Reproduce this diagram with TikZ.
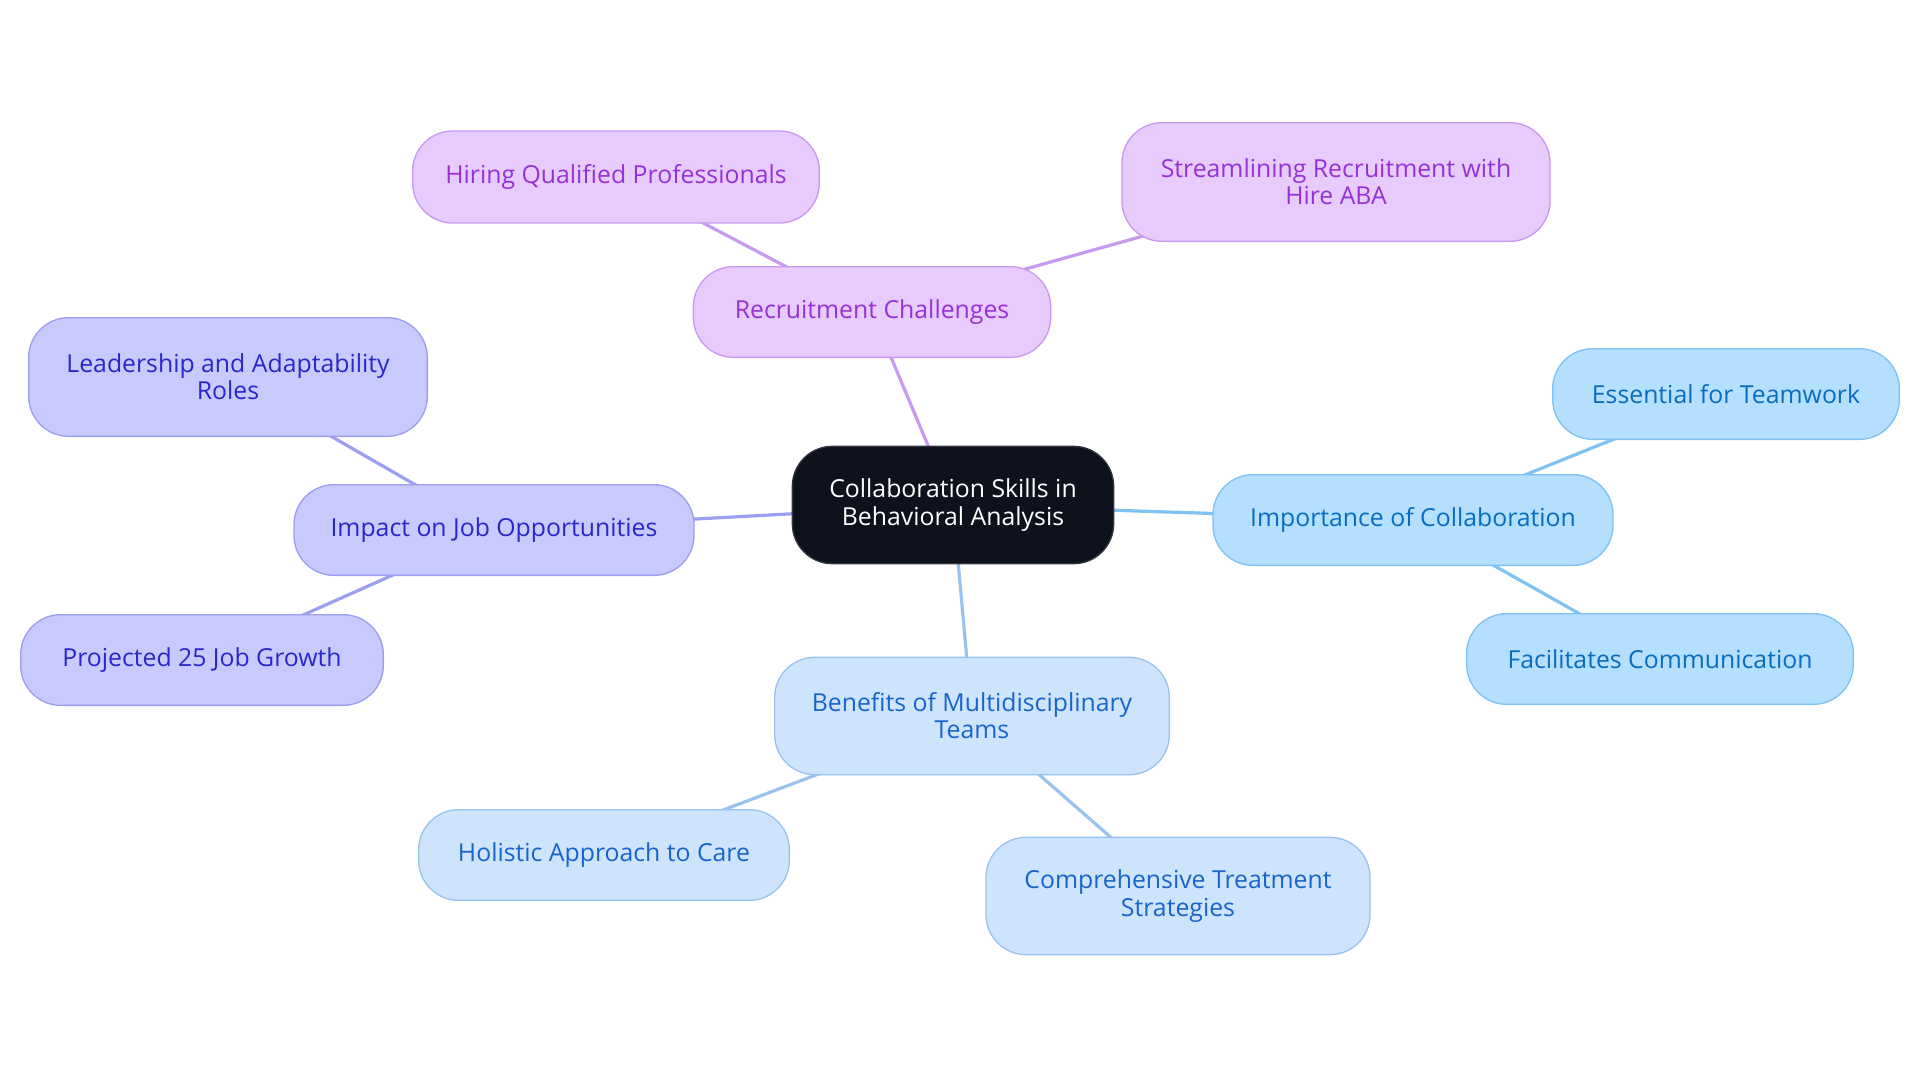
\documentclass[tikz,border=0pt]{standalone}
\usepackage{fontspec}
\setmainfont{Open Sans}
\usetikzlibrary{backgrounds}

\definecolor{coeurFond}{HTML}{0D121C}
\definecolor{coeurBord}{HTML}{30353F}
\definecolor{violetFond}{HTML}{E7CBFD}
\definecolor{violetBord}{HTML}{C799F0}
\definecolor{violetTexte}{HTML}{9631D6}
\definecolor{cielFond}{HTML}{B4DFFE}
\definecolor{cielBord}{HTML}{7FC1F1}
\definecolor{cielTexte}{HTML}{0A6CBF}
\definecolor{lavandeFond}{HTML}{C8C9FC}
\definecolor{lavandeBord}{HTML}{9C9EF1}
\definecolor{lavandeTexte}{HTML}{2828C8}
\definecolor{paleFond}{HTML}{CEE4FC}
\definecolor{paleBord}{HTML}{99C3EE}
\definecolor{paleTexte}{HTML}{1864CC}

\tikzset{
  bulle/.style={rounded corners=30pt, line width=1pt, align=center, inner sep=0pt,
    font=\fontsize{18.6}{20.4}\selectfont},
  coeur/.style={bulle, fill=coeurFond, draw=coeurBord, text=white},
  violet/.style={bulle, fill=violetFond, draw=violetBord, text=violetTexte},
  ciel/.style={bulle, fill=cielFond, draw=cielBord, text=cielTexte},
  lavande/.style={bulle, fill=lavandeFond, draw=lavandeBord, text=lavandeTexte},
  pale/.style={bulle, fill=paleFond, draw=paleBord, text=paleTexte},
  lien/.style={line width=2.4pt}
}

\begin{document}
\begin{tikzpicture}[x=0.75pt,y=-0.75pt]
\useasboundingbox (0,0) rectangle (1920,1083);

% noeud central
\node[coeur, minimum width=241pt, minimum height=88pt] (centre) at (953,505) {Collaboration Skills in\\Behavioral Analysis};

% branche recrutement
\node[violet, minimum width=268pt, minimum height=68pt] (recru) at (872,312) {Recruitment Challenges};
\node[violet, minimum width=305pt, minimum height=69pt] (embauche) at (616,177) {Hiring Qualified Professionals};
\node[violet, minimum width=321pt, minimum height=89pt] (hireaba) at (1336,182) {Streamlining Recruitment with\\Hire ABA};

% branche collaboration
\node[ciel, minimum width=300pt, minimum height=68pt] (import) at (1413,520) {Importance of Collaboration};
\node[ciel, minimum width=260pt, minimum height=68pt] (equipe) at (1726,394) {Essential for Teamwork};
\node[ciel, minimum width=290pt, minimum height=68pt] (commu) at (1660,659) {Facilitates Communication};

% branche emplois
\node[lavande, minimum width=300pt, minimum height=68pt] (emploi) at (494,530) {Impact on Job Opportunities};
\node[lavande, minimum width=299pt, minimum height=89pt] (leader) at (228,377) {Leadership and Adaptability\\Roles};
\node[lavande, minimum width=272pt, minimum height=68pt] (croiss) at (202,660) {Projected 25 Job Growth};

% branche equipes
\node[pale, minimum width=296pt, minimum height=88pt] (multi) at (972,716) {Benefits of Multidisciplinary\\Teams};
\node[pale, minimum width=278pt, minimum height=68pt] (holist) at (604,855) {Holistic Approach to Care};
\node[pale, minimum width=288pt, minimum height=88pt] (strat) at (1178,896) {Comprehensive Treatment\\Strategies};

% liens (derriere les bulles)
\begin{scope}[on background layer]
\draw[lien, violetBord] (centre.center) -- (recru.center);
\draw[lien, violetBord] (recru.center) -- (embauche.center);
\draw[lien, violetBord] (recru.center) -- (hireaba.center);
\draw[lien, cielBord] (centre.center) -- (import.center);
\draw[lien, cielBord] (import.center) -- (equipe.center);
\draw[lien, cielBord] (import.center) -- (commu.center);
\draw[lien, lavandeBord] (centre.center) -- (emploi.center);
\draw[lien, lavandeBord] (emploi.center) -- (leader.center);
\draw[lien, lavandeBord] (emploi.center) -- (croiss.center);
\draw[lien, paleBord] (centre.center) -- (multi.center);
\draw[lien, paleBord] (multi.center) -- (holist.center);
\draw[lien, paleBord] (multi.center) -- (strat.center);
\end{scope}

\end{tikzpicture}
\end{document}
